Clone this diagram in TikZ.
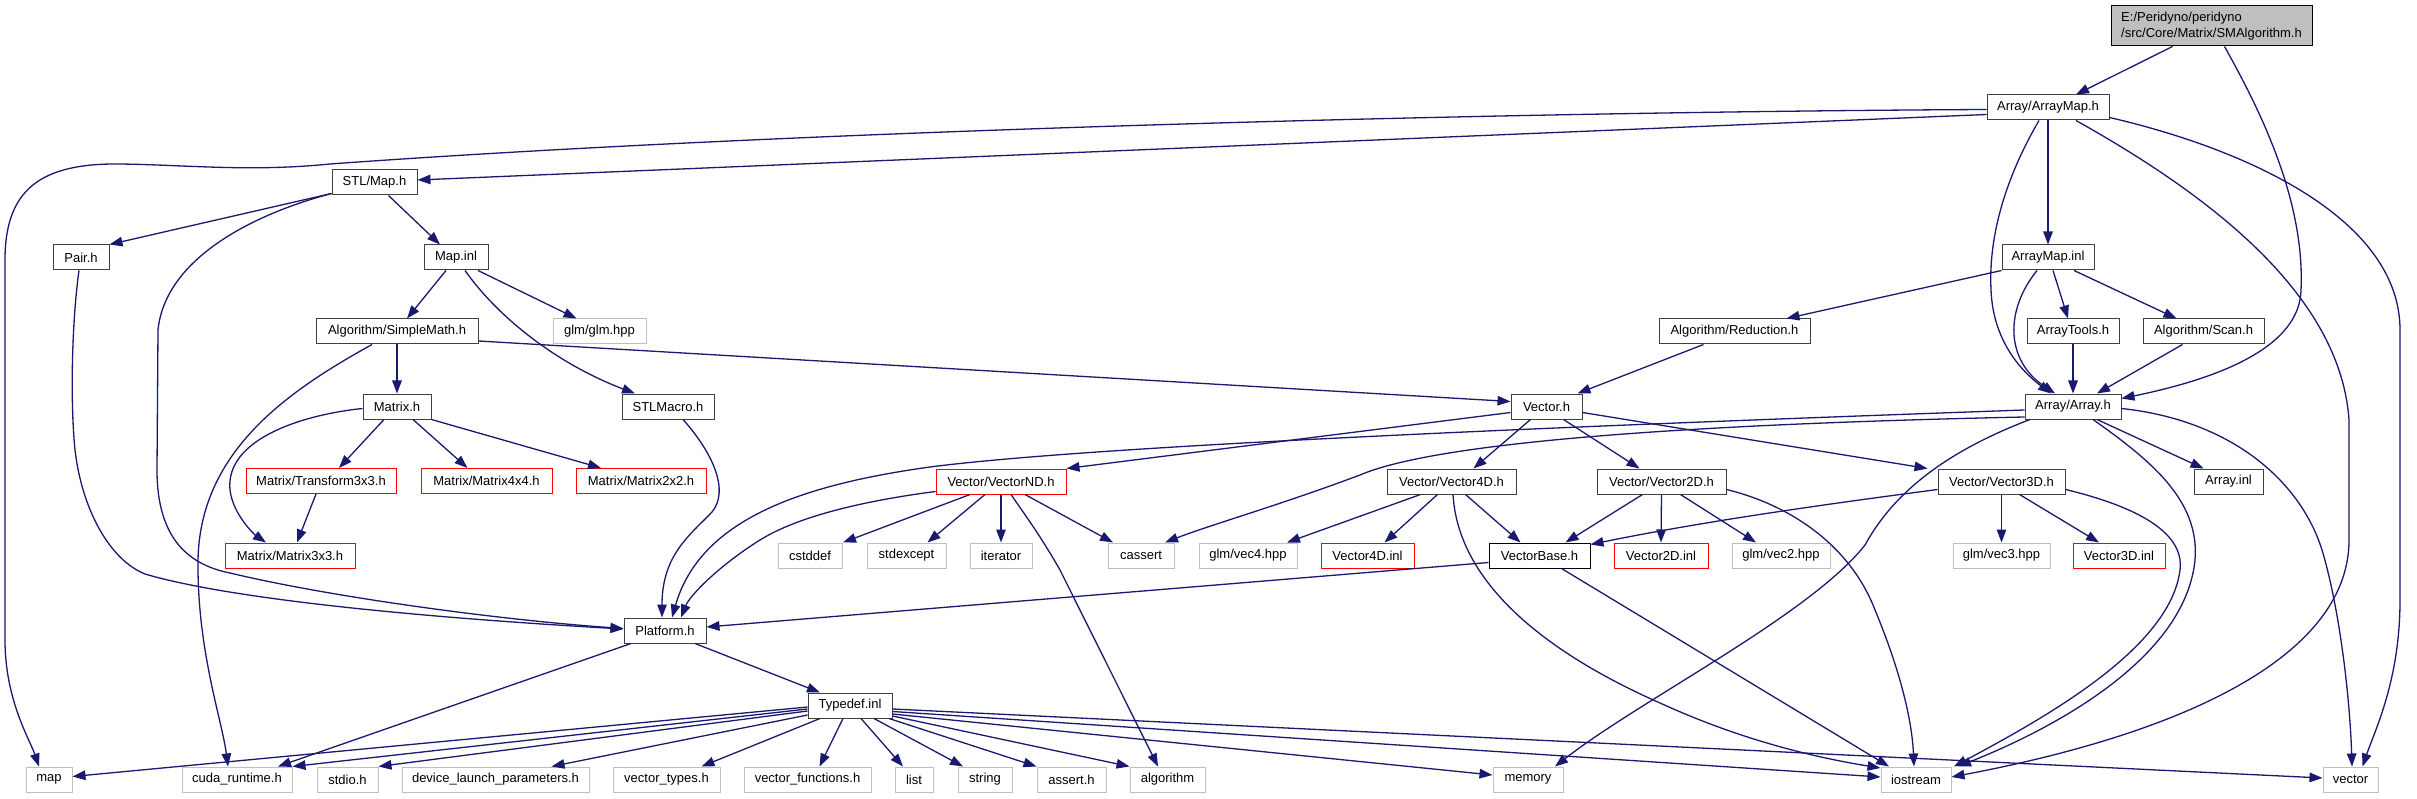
\documentclass[tikz,border=0pt]{standalone}
\usepackage{fontspec}
\setmainfont{Liberation Sans}
\usetikzlibrary{arrows.meta}
\definecolor{edgec}{HTML}{191970}
\definecolor{docb}{HTML}{404040}
\definecolor{extb}{HTML}{BFBFBF}
\definecolor{rootf}{HTML}{BFBFBF}
\begin{document}
\begin{tikzpicture}[x=1pt,y=-1pt,
  w/.style={minimum width=#1pt},
  box/.style={rectangle, inner sep=0pt, minimum height=25pt, font=\fontsize{13}{15.5}\selectfont, line width=1pt, fill=white},
  docn/.style={box, draw=docb},
  blkn/.style={box, draw=black},
  redn/.style={box, draw=red},
  extn/.style={box, draw=extb},
  rootn/.style={box, draw=black, fill=rootf, minimum height=40pt, align=left},
  edge/.style={draw=edgec, line width=1.3pt, -{Triangle[length=13pt,width=9.5pt]}}]
\fill[white] (0,0) rectangle (2417,799);
\useasboundingbox (0,0) rectangle (2417,799);
% nodes
\node[rootn, w=201] (root) at (2211.5,26) {E:/Peridyno/peridyno\\/src/Core/Matrix/SMAlgorithm.h};
\node[docn, w=122] (arraymaph) at (2048,107.5) {Array/ArrayMap.h};
\node[docn, w=92] (arraymapinl) at (2048,257.5) {ArrayMap.inl};
\node[docn, w=85] (stlmap) at (374.5,182.5) {STL/Map.h};
\node[docn, w=56] (pair) at (81,257.5) {Pair.h};
\node[docn, w=64] (mapinl) at (456,257.5) {Map.inl};
\node[docn, w=162] (simplemath) at (397,331.5) {Algorithm/SimpleMath.h};
\node[extn, w=93] (glm) at (599.5,331.5) {glm/glm.hpp};
\node[docn, w=68] (matrixh) at (397,406.5) {Matrix.h};
\node[redn, w=150] (transform) at (321,481) {Matrix/Transform3x3.h};
\node[redn, w=131] (m4) at (486.5,481) {Matrix/Matrix4x4.h};
\node[redn, w=130] (m2) at (641,481) {Matrix/Matrix2x2.h};
\node[redn, w=130] (m3) at (290,555.5) {Matrix/Matrix3x3.h};
\node[docn, w=92] (stlmacro) at (668,406.5) {STLMacro.h};
\node[redn, w=130] (vectornd) at (1001,481.5) {Vector/VectorND.h};
\node[docn, w=151] (reduction) at (1734.5,331.5) {Algorithm/Reduction.h};
\node[docn, w=92] (arraytools) at (2073,331.5) {ArrayTools.h};
\node[docn, w=121] (scan) at (2203.5,331.5) {Algorithm/Scan.h};
\node[docn, w=96] (arrayh) at (2073,406.5) {Array/Array.h};
\node[docn, w=69] (arrayinl) at (2228.5,481.5) {Array.inl};
\node[docn, w=127] (vector3d) at (2001.5,481.5) {Vector/Vector3D.h};
\node[docn, w=71] (vectorh) at (1546.5,406.5) {Vector.h};
\node[docn, w=129] (vector4d) at (1451.5,481.5) {Vector/Vector4D.h};
\node[docn, w=129] (vector2d) at (1661.5,481.5) {Vector/Vector2D.h};
\node[extn, w=98] (vec4hpp) at (1248,555.5) {glm/vec4.hpp};
\node[redn, w=93] (vector4dinl) at (1367.5,555.5) {Vector4D.inl};
\node[blkn, w=101] (vectorbase) at (1539.5,555.5) {VectorBase.h};
\node[redn, w=94] (vector2dinl) at (1661,555.5) {Vector2D.inl};
\node[extn, w=98] (vec2hpp) at (1781,555.5) {glm/vec2.hpp};
\node[extn, w=97] (vec3hpp) at (2001.5,555.5) {glm/vec3.hpp};
\node[redn, w=92] (vector3dinl) at (2119,555.5) {Vector3D.inl};
\node[extn, w=64] (cstddef) at (810,555.5) {cstddef};
\node[extn, w=79] (stdexcept) at (906.5,555.5) {stdexcept};
\node[extn, w=62] (iterator) at (1001,555.5) {iterator};
\node[extn, w=66] (cassert) at (1141,555.5) {cassert};
\node[docn, w=82] (platform) at (665,630.5) {Platform.h};
\node[docn, w=84] (typedef) at (850,705.5) {Typedef.inl};
\node[extn, w=46] (map) at (49,779.5) {map};
\node[extn, w=110] (cuda) at (237,779.5) {cuda\_runtime.h};
\node[extn, w=61] (stdio) at (347.5,779.5) {stdio.h};
\node[extn, w=187] (device) at (495.5,779.5) {device\_launch\_parameters.h};
\node[extn, w=107] (vtypes) at (666.5,779.5) {vector\_types.h};
\node[extn, w=127] (vfunc) at (807.5,779.5) {vector\_functions.h};
\node[extn, w=38] (list) at (914,779.5) {list};
\node[extn, w=54] (string) at (985,779.5) {string};
\node[extn, w=69] (asserth) at (1071.5,779.5) {assert.h};
\node[extn, w=75] (algorithm) at (1167.5,779.5) {algorithm};
\node[extn, w=70] (memory) at (1528,779.5) {memory};
\node[extn, w=70] (iostream) at (1916,779.5) {iostream};
\node[extn, w=55] (vector) at (2350.5,779.5) {vector};
% edges from root
\draw[edge] ([xshift=-39pt]root.south) -- ([xshift=28pt]arraymaph.north);
\draw[edge] ([xshift=13pt]root.south) .. controls (2260,110) and (2305,200) .. (2301,290) .. controls (2300,330) and (2260,370) .. ([yshift=8pt]arrayh.east);
% ArrayMap.h
\draw[edge] ([yshift=-2pt]arraymaph.west) .. controls (1500,112) and (800,130) .. (330,164) .. controls (250,172) and (190,165) .. (120,164) .. controls (40,163) and (5,190) .. (5,260) -- (5,640) .. controls (5,700) and (30,740) .. ([xshift=-10pt]map.north);
\draw[edge] ([yshift=-7pt]arraymaph.west) -- ([yshift=2.5pt]stlmap.east);
\draw[edge] (arraymaph.south) -- (arraymapinl.north);
\draw[edge] ([xshift=-9pt]arraymaph.south) .. controls (2010,170) and (1988,230) .. (1991,290) .. controls (1993,340) and (2020,370) .. ([xshift=-22pt]arrayh.north);
\draw[edge] ([xshift=28pt]arraymaph.south) .. controls (2200,190) and (2340,290) .. (2349,420) -- (2349,540) .. controls (2349,650) and (2200,730) .. ([yshift=2.5pt]iostream.east);
\draw[edge] ([yshift=-10pt]arraymaph.east) .. controls (2250,150) and (2400,220) .. (2400,330) -- (2400,600) .. controls (2400,680) and (2375,730) .. ([xshift=12pt]vector.north);
% STL/Map.h
\draw[edge] ([yshift=-11pt]stlmap.west) -- (pair.north east);
\draw[edge] ([xshift=14pt]stlmap.south) -- ([xshift=-16pt]mapinl.north);
\draw[edge] ([yshift=-11pt]stlmap.west) .. controls (250,215) and (165,260) .. (158,330) -- (157,470) .. controls (157,540) and (190,565) .. (230,573) .. controls (330,597) and (500,620) .. ([yshift=2pt]platform.west);
\draw[edge] ([xshift=-2pt]pair.south) .. controls (72,320) and (70,400) .. (75,450) .. controls (82,510) and (110,560) .. (145,574) .. controls (250,605) and (500,622) .. ([yshift=1.5pt]platform.west);
% Map.inl
\draw[edge] ([xshift=-10pt]mapinl.south) -- ([xshift=10pt]simplemath.north);
\draw[edge] ([xshift=22pt]mapinl.south) -- ([xshift=-23pt]glm.north);
\draw[edge] ([xshift=9pt]mapinl.south) .. controls (500,320) and (560,365) .. ([xshift=-33pt]stlmacro.north);
% SimpleMath
\draw[edge] (simplemath.south) -- (matrixh.north);
\draw[edge] ([xshift=-25pt]simplemath.south) .. controls (290,390) and (200,450) .. (198,560) .. controls (197,650) and (222,720) .. ([xshift=-9pt]cuda.north);
\draw[edge] ([yshift=-9.5pt]simplemath.east) -- ([yshift=5pt]vectorh.west);
% Matrix.h
\draw[edge] ([yshift=-2pt]matrixh.west) .. controls (300,415) and (225,440) .. (230,490) .. controls (233,515) and (255,535) .. ([xshift=-24pt]m3.north);
\draw[edge] ([xshift=-13pt]matrixh.south) -- ([xshift=18pt]transform.north);
\draw[edge] ([xshift=16pt]matrixh.south) -- ([xshift=-19pt]m4.north);
\draw[edge] (matrixh.south east) -- ([xshift=-40pt]m2.north);
\draw[edge] ([xshift=-5pt]transform.south) -- ([xshift=7pt]m3.north);
% STLMacro
\draw[edge] ([xshift=15pt]stlmacro.south) .. controls (712,452) and (730,490) .. (712,512) .. controls (690,535) and (662,555) .. ([xshift=-3pt]platform.north);
% ArrayMap.inl
\draw[edge] ([xshift=-11pt]arraymapinl.south) .. controls (2005,310) and (2005,360) .. ([xshift=-18pt]arrayh.north);
\draw[edge] ([xshift=5pt]arraymapinl.south) -- ([xshift=-5pt]arraytools.north);
\draw[edge] ([xshift=26pt]arraymapinl.south) -- ([xshift=-27pt]scan.north);
\draw[edge] (arraymapinl.south west) -- ([xshift=52pt]reduction.north);
\draw[edge] (arraytools.south) -- (arrayh.north);
\draw[edge] ([xshift=-21pt]scan.south) -- ([xshift=24pt]arrayh.north);
\draw[edge] ([xshift=-31pt]reduction.south) -- ([xshift=31pt]vectorh.north);
% Array.h
\draw[edge] ([yshift=-3.5pt]arrayh.west) .. controls (1600,425) and (1100,445) .. (930,467) .. controls (800,485) and (700,520) .. ([xshift=7pt]platform.north);
\draw[edge] ([yshift=-10.5pt]arrayh.west) .. controls (1650,425) and (1430,445) .. (1360,475) .. controls (1280,505) and (1210,525) .. ([xshift=24pt]cassert.north);
\draw[edge] ([xshift=-43pt]arrayh.south) .. controls (1950,450) and (1895,490) .. (1865,545) .. controls (1810,615) and (1640,700) .. ([xshift=27pt]memory.north);
\draw[edge] ([xshift=20pt]arrayh.south) .. controls (2150,460) and (2200,500) .. (2195,560) .. controls (2185,660) and (2050,730) .. ([xshift=42pt]iostream.north);
\draw[edge] ([yshift=-2pt]arrayh.east) .. controls (2230,420) and (2300,480) .. (2322,550) .. controls (2340,610) and (2350,700) .. ([xshift=1.5pt]vector.north);
\draw[edge] ([xshift=24pt]arrayh.south) -- ([xshift=-25pt]arrayinl.north);
% Vector.h
\draw[edge] ([xshift=-16pt]vectorh.south) -- ([xshift=22pt]vector4d.north);
\draw[edge] ([xshift=17pt]vectorh.south) -- ([xshift=-22pt]vector2d.north);
\draw[edge] ([yshift=-6pt]vectorh.east) -- ([xshift=-74pt]vector3d.north);
\draw[edge] ([yshift=-6pt]vectorh.west) -- (vectornd.north east);
% VectorND.h
\draw[edge] ([yshift=-10pt]vectornd.west) .. controls (870,500) and (800,515) .. (760,540) .. controls (720,565) and (690,595) .. ([xshift=16pt]platform.north);
\draw[edge] ([xshift=-31pt]vectornd.south) -- ([xshift=33pt]cstddef.north);
\draw[edge] ([xshift=-16pt]vectornd.south) -- ([xshift=21pt]stdexcept.north);
\draw[edge] (vectornd.south) -- (iterator.north);
\draw[edge] ([xshift=10pt]vectornd.south) .. controls (1025,515) and (1040,535) .. (1060,570) -- ([xshift=-9.5pt]algorithm.north);
\draw[edge] ([xshift=24pt]vectornd.south) -- ([xshift=-28pt]cassert.north);
% Vector4D.h
\draw[edge] ([xshift=-31pt]vector4d.south) -- ([xshift=39pt]vec4hpp.north);
\draw[edge] ([xshift=-14pt]vector4d.south) -- ([xshift=17pt]vector4dinl.north);
\draw[edge] ([xshift=14pt]vector4d.south) -- ([xshift=-19pt]vectorbase.north);
\draw[edge] ([xshift=1.5pt]vector4d.south) .. controls (1458,580) and (1540,650) .. (1660,703) .. controls (1730,735) and (1800,755) .. ([yshift=11.5pt]iostream.west);
% Vector2D.h
\draw[edge] ([xshift=-19pt]vector2d.south) -- ([xshift=26pt]vectorbase.north);
\draw[edge] (vector2d.south) -- (vector2dinl.north);
\draw[edge] ([xshift=19pt]vector2d.south) -- ([xshift=-25pt]vec2hpp.north);
\draw[edge] ([yshift=-8pt]vector2d.east) .. controls (1790,505) and (1850,545) .. (1875,610) .. controls (1900,670) and (1912,720) .. ([xshift=-2pt]iostream.north);
% Vector3D.h
\draw[edge] (vector3d.south) -- (vec3hpp.north);
\draw[edge] ([xshift=18pt]vector3d.south) -- ([xshift=-20pt]vector3dinl.north);
\draw[edge] ([yshift=-8pt]vector3d.west) .. controls (1820,505) and (1700,522) .. ([yshift=11pt]vectorbase.east);
\draw[edge] ([yshift=-8pt]vector3d.east) .. controls (2130,505) and (2185,530) .. (2180,570) .. controls (2170,650) and (2040,720) .. ([xshift=38pt]iostream.north);
% VectorBase.h
\draw[edge] ([yshift=-7pt]vectorbase.west) -- ([yshift=3.5pt]platform.east);
\draw[edge] ([xshift=22pt]vectorbase.south) -- ([xshift=-27pt]iostream.north);
% Platform.h
\draw[edge] ([xshift=-34pt]platform.south) -- ([xshift=41pt]cuda.north);
\draw[edge] ([xshift=30pt]platform.south) -- ([xshift=-30pt]typedef.north);
% Typedef.inl
\draw[edge] ([yshift=-1.5pt]typedef.west) -- ([yshift=3pt]map.east);
\draw[edge] ([yshift=-3.5pt]typedef.west) -- (cuda.north east);
\draw[edge] ([yshift=-5.5pt]typedef.west) -- (stdio.north east);
\draw[edge] ([yshift=-9.5pt]typedef.west) -- ([xshift=56pt]device.north);
\draw[edge] ([xshift=-30pt]typedef.south) -- ([xshift=35pt]vtypes.north);
\draw[edge] ([xshift=-7pt]typedef.south) -- ([xshift=12pt]vfunc.north);
\draw[edge] ([xshift=11pt]typedef.south) -- ([xshift=-11pt]list.north);
\draw[edge] ([xshift=24pt]typedef.south) -- ([xshift=-22pt]string.north);
\draw[edge] ([xshift=39pt]typedef.south) -- ([xshift=-35pt]asserth.north);
\draw[edge] ([yshift=-10.5pt]typedef.east) -- (algorithm.north west);
\draw[edge] ([yshift=-8.5pt]typedef.east) -- ([yshift=4.5pt]memory.west);
\draw[edge] ([yshift=-6pt]typedef.east) -- ([yshift=2.5pt]iostream.west);
\draw[edge] ([yshift=-3.5pt]typedef.east) -- ([yshift=1.5pt]vector.west);
\end{tikzpicture}
\end{document}
